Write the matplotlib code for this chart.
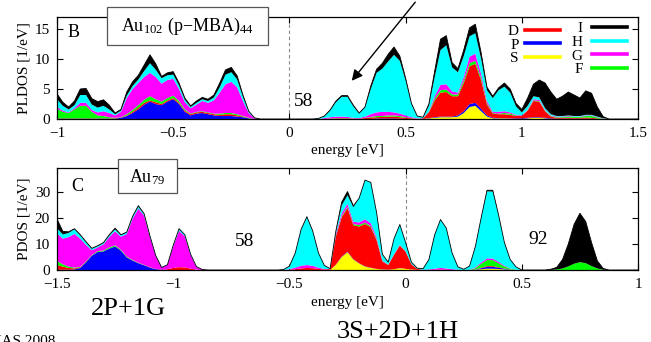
import numpy as np
import matplotlib
matplotlib.use('Agg')
import matplotlib.pyplot as plt
from matplotlib.lines import Line2D
from matplotlib.patches import Rectangle, FancyArrowPatch

plt.rcParams['font.family'] = ['Liberation Serif', 'DejaVu Serif']
plt.rcParams['mathtext.fontset'] = 'custom'
plt.rcParams['mathtext.rm'] = 'Liberation Serif'
plt.rcParams['mathtext.it'] = 'Liberation Serif:italic'

# ---------------- data: panel B, Au102(p-MBA)44, energy grid -1 .. 1.5 eV ----------------
energy_B = np.round(np.linspace(-1.0, 1.5, 101), 3)
B_S = [0, 0, 0, 0, 0, 0, 0, 0, 0, 0,
       0, 0, 0, 0, 0, 0, 0, 0, 0, 0,
       0, 0, 0, 0, 0, 0, 0, 0, 0, 0,
       0, 0, 0, 0, 0, 0, 0, 0, 0, 0,
       0, 0, 0, 0, 0, 0, 0, 0, 0, 0,
       0, 0, 0, 0, 0, 0, 0, 0, 0, 0,
       0, 0, 0, 0, .1, .2, .3, .3, .3, .4,
       1.0, 2.0, 2.2, 1.3, .4, .1, .1, .1, .05, 0,
       0, .1, .2, .2, .1, 0, 0, 0, 0, 0,
       0, 0, 0, 0, 0, 0, 0, 0, 0, 0, 0]
B_P = [.05, .05, .05, .05, .05, .05, .05, .05, .05, .05,
       .05, .2, .5, 1.0, 1.6, 2.4, 2.9, 2.5, 2.3, 2.9,
       3.3, 2.5, 1.2, .6, .9, 1.0, .8, .6, .5, .5,
       .5, .4, .3, .1, 0, 0, 0, 0, 0, 0,
       0, 0, 0, 0, 0, 0, 0, 0, 0, 0,
       0, 0, 0, 0, 0, .1, .1, .1, .1, .05,
       0, 0, 0, 0, .05, .1, .1, .1, .1, .2,
       .3, .5, .5, .4, .2, .1, .05, .05, .05, .1,
       .1, .1, .1, .1, .1, .1, .05, .05, .05, .05,
       .05, .05, .05, 0, 0, 0, 0, 0, 0, 0, 0]
B_D = [.05, .05, .05, .05, .05, .05, .05, .05, .05, .05,
       .05, .05, .1, .2, .3, .3, .2, .3, .2, .2,
       .2, .2, .2, .2, .2, .2, .2, .2, .2, .3,
       .3, .2, .1, 0, 0, 0, 0, 0, 0, 0,
       0, 0, 0, 0, 0, 0, 0, .05, .1, .1,
       .1, .05, .05, .15, .25, .2, .25, .3, .3, .25,
       .2, .1, .02, .1, .95, 2.8, 4.0, 4.1, 3.4, 3.2,
       4.7, 6.3, 6.5, 4.7, 1.8, .7, .65, .65, .6, .4,
       .4, 1.2, 2.7, 2.6, 1.1, .3, .15, .15, .15, .15,
       .15, .2, .15, .1, 0, 0, 0, 0, 0, 0, 0]
B_F = [1.6, 1.1, .9, 1.5, 2.1, 2.1, 1.1, .5, .4, .2,
       .1, .05, .2, .3, .4, .5, .7, .5, .4, .4,
       .4, .3, .2, .1, .1, .1, .1, .1, .2, .2,
       .2, .2, .1, .1, 0, 0, 0, 0, 0, 0,
       0, 0, 0, 0, 0, 0, 0, .05, .05, .05,
       .05, .05, 0, .05, .1, .2, .15, .2, .2, .2,
       .1, .05, 0, 0, .1, .3, .4, .4, .3, .3,
       .4, .5, .5, .4, .2, .1, .1, .2, .2, .1,
       0, .1, .1, .1, .1, .1, .1, .1, .2, .15,
       .15, .25, .3, .15, .05, 0, 0, 0, 0, 0, 0]
B_G = [.3, .2, .1, .2, .5, .5, .3, .5, .8, .7,
       .4, .9, 2.7, 3.5, 3.7, 3.8, 3.9, 3.7, 3.0, 3.0,
       2.8, 2.0, 1.2, .9, 1.2, 1.7, 1.6, 2.2, 3.5, 4.8,
       5.2, 4.5, 2.5, .8, .15, 0, 0, 0, 0, 0,
       0, 0, 0, 0, 0, 0, .15, .2, .25, .25,
       .2, .1, .1, .2, .45, .6, .7, .6, .5, .4,
       .3, .15, .08, .05, .1, .4, .9, .9, .5, .3,
       .6, 1.1, 1.2, .7, .4, .2, .3, .3, .2, .1,
       .1, .1, .2, .2, .1, .1, .1, .1, .1, .05,
       .05, .1, .1, .05, .05, 0, 0, 0, 0, 0, 0]
B_H = [1.3, .8, .5, .5, 1.3, 1.3, .9, .8, .9, .6,
       .2, .2, .4, .5, .6, 1.0, 1.6, 1.2, .9, .8,
       .7, .6, .4, .2, .3, .3, .3, .5, .9, 1.6,
       1.6, 1.3, .7, .2, .05, 0, 0, 0, 0, 0,
       0, 0, 0, 0, 0, .1, .3, 1.1, 2.4, 3.3,
       3.35, 1.9, .75, 1.5, 4.2, 6.6, 7.2, 8.4, 9.6, 8.8,
       5.8, 2.2, .35, .15, .9, 3.2, 5.8, 6.5, 4.0, 3.4,
       3.5, 3.4, 3.4, 2.5, 1.8, 2.3, 3.6, 4.1, 3.3, 1.4,
       .5, .6, .5, .4, .3, .2, .1, .1, .1, .1,
       .1, .1, .1, .1, .05, 0, 0, 0, 0, 0, 0]
B_I = [.9, .6, .4, .7, 1.0, 1.1, 1.0, 1.0, 1.0, .7,
       .2, .2, .6, .7, .7, 1.0, 1.4, 1.0, .3, .4,
       .5, .4, .3, .2, .3, .3, .3, .4, .7, .8,
       .8, .6, .3, .1, 0, 0, 0, 0, 0, 0,
       0, 0, 0, 0, 0, 0, .05, .1, .2, .2,
       .2, .2, .1, .1, .5, .6, .9, 1.2, 1.3, .8,
       .4, .1, .05, 0, .3, 1.0, 1.8, 1.6, .8, .6,
       1.0, 1.4, 1.5, 1.0, .5, .3, .4, .6, .6, .5,
       .5, 1.3, 2.0, 2.9, 4.2, 3.7, 2.8, 3.3, 3.9, 3.5,
       3.0, 4.0, 3.6, 1.6, .25, 0, 0, 0, 0, 0, 0]

# ---------------- data: panel C, Au79, energy grid -1.5 .. 1 eV ----------------
energy_C = np.round(np.linspace(-1.5, 1.0, 101), 3)
C_S = [0, 0, 0, 0, 0, 0, 0, 0, 0, 0,
       0, 0, 0, 0, 0, 0, 0, 0, 0, 0,
       0, 0, 0, 0, 0, 0, 0, 0, 0, 0,
       0, 0, 0, 0, 0, 0, 0, 0, 0, 0,
       0, 0, 0, 0, 0, 0, 0, 0, 2.0, 5.0,
       6.8, 4.0, 2.5, 1.3, .8, .4, .2, .1, .3, .7,
       .5, .2, .05, 0, 0, 0, 0, 0, 0, 0,
       0, 0, .1, .3, .5, .5, .4, .2, .1, 0,
       0, 0, 0, 0, 0, 0, 0, 0, 0, 0,
       0, 0, 0, 0, 0, 0, 0, 0, 0, 0, 0]
C_P = [.1, .1, .1, .2, .8, 3.0, 5.5, 6.9, 7.1, 8.2,
       9.0, 7.4, 4.8, 3.6, 2.6, 1.8, .9, .3, .05, 0,
       0, 0, 0, 0, 0, 0, 0, 0, 0, 0,
       0, 0, 0, 0, 0, 0, 0, 0, 0, 0,
       0, 0, 0, 0, 0, 0, 0, 0, .1, .2,
       .2, .15, .1, .1, .1, .05, .05, 0, 0, .05,
       0, 0, 0, 0, 0, 0, 0, 0, 0, 0,
       0, 0, .1, .4, .7, .7, .5, .3, .1, 0,
       0, 0, 0, 0, 0, 0, 0, 0, 0, 0,
       0, 0, 0, 0, 0, 0, 0, 0, 0, 0, 0]
C_D = [1.8, 1.2, .7, .4, .2, .1, .05, .05, .05, .05,
       .05, .05, .05, .05, .05, .05, .05, .05, .05, .3,
       .8, 1.1, 1.0, .5, .1, 0, 0, 0, 0, 0,
       0, 0, 0, 0, 0, 0, 0, 0, 0, 0,
       .1, .3, .6, .8, .7, .4, .2, .3, 10.8, 15.0,
       16.7, 13.0, 14.0, 16.2, 15.5, 11.0, 3.0, 1.8, 5.5, 8.6,
       6.5, 2.0, .4, 0, 0, .1, .2, .1, 0, 0,
       0, 0, 0, .2, .3, .3, .2, .1, 0, 0,
       0, 0, 0, 0, 0, 0, 0, 0, 0, 0,
       0, 0, 0, 0, 0, 0, 0, 0, 0, 0, 0]
C_F = [1.5, .9, .5, .3, .2, .2, .2, .3, .3, .4,
       .4, .3, .3, .2, .15, .1, .1, .05, 0, 0,
       0, 0, 0, 0, 0, 0, 0, 0, 0, 0,
       0, 0, 0, 0, 0, 0, 0, 0, 0, 0,
       0, 0, 0, 0, 0, 0, 0, 0, .3, .4,
       .4, .4, .6, .5, .4, .3, .1, .05, .1, .1,
       .1, 0, 0, 0, 0, 0, 0, 0, 0, 0,
       0, 0, .5, 1.5, 2.3, 2.3, 1.5, .8, .3, .1,
       0, 0, 0, 0, 0, .05, .2, .6, 1.4, 2.4,
       3.0, 2.6, 1.5, .6, .1, 0, 0, 0, 0, 0, 0]
C_G = [10.6, 9.8, 11.3, 12.9, 10.8, 6.3, 1.8, 1.4, 2.4, 4.0,
       5.4, 5.0, 8.6, 15.8, 20.7, 18.8, 11.5, 4.9, .85, 1.6,
       8.3, 13.9, 11.9, 5.2, 1.1, .2, 0, 0, 0, 0,
       0, 0, 0, 0, 0, 0, 0, 0, 0, 0,
       .2, .6, 1.0, 1.1, .9, .5, .2, .05, .8, 1.1,
       1.2, .9, 1.0, 1.3, 1.1, .8, .3, .1, .2, .2,
       .1, .05, 0, .1, .2, .4, .6, .5, .3, .1,
       0, .1, .3, .5, .6, .6, .5, .3, .1, 0,
       0, 0, 0, 0, 0, 0, 0, 0, 0, 0,
       0, 0, 0, 0, 0, 0, 0, 0, 0, 0, 0]
C_H = [2.0, 1.6, 1.6, 1.8, 1.3, 1.0, .6, .5, .5, .6,
       .7, .6, .6, .7, .8, .6, .4, .2, .05, .1,
       .4, .7, .6, .3, .1, 0, 0, 0, 0, 0,
       0, 0, 0, 0, 0, 0, 0, 0, 0, .2,
       1.2, 5.6, 13.9, 18.4, 13.4, 5.6, 1.4, .15, .8, 3.0,
       3.3, 5.6, 9.3, 15.0, 15.6, 9.45, 2.35, .95, 5.9, 7.75,
       3.3, .75, .25, .4, 3.8, 13.0, 18.5, 15.4, 6.2, 1.1,
       .3, 1.4, 8.0, 17.1, 25.7, 25.6, 17.9, 8.8, 3.4, 1.1,
       0, 0, 0, 0, 0, 0, 0, 0, 0, 0,
       0, 0, 0, 0, 0, 0, 0, 0, 0, 0, 0]
C_I = [3.5, 1.2, .4, .2, .2, .2, .15, .15, .15, .25,
       .45, .15, .15, .15, .3, .15, .05, 0, 0, 0,
       0, .1, 0, 0, 0, 0, 0, 0, 0, 0,
       0, 0, 0, 0, 0, 0, 0, 0, 0, 0,
       0, 0, 0, .1, 0, 0, 0, 0, .2, 1.3,
       1.4, .45, 0, 0, 0, 0, 0, 0, 0, 0,
       0, 0, 0, 0, 0, 0, 0, 0, 0, 0,
       0, 0, 0, 0, .4, .5, 0, 0, 0, 0,
       0, 0, 0, 0, 0, .25, .8, 3.4, 8.6, 15.1,
       18.7, 15.9, 9.0, 2.9, .5, 0, 0, 0, 0, 0, 0]

channels = ['S', 'P', 'D', 'F', 'G', 'H', 'I']
colors = {'S': '#ffff00', 'P': '#0000ff', 'D': '#ff0000', 'F': '#00ff00',
          'G': '#ff00ff', 'H': '#00ffff', 'I': '#000000'}

B_data = [B_S, B_P, B_D, B_F, B_G, B_H, B_I]
C_data = [C_S, C_P, C_D, C_F, C_G, C_H, C_I]

B_xticks = [-1, -0.5, 0, 0.5, 1, 1.5]
B_xticklabels = ['\u22121', '\u22120.5', '0', '0.5', '1', '1.5']
B_yticks = [0, 5, 10, 15]
C_xticks = [-1.5, -1, -0.5, 0, 0.5, 1]
C_xticklabels = ['\u22121.5', '\u22121', '\u22120.5', '0', '0.5', '1']
C_yticks = [0, 10, 20, 30]

fig = plt.figure(figsize=(6.51, 3.42), dpi=100)
axB = fig.add_axes([0.0876, 0.652, 0.8925, 0.2982])
axC = fig.add_axes([0.0876, 0.2105, 0.8925, 0.2982])


def draw(ax, energy, data, xlim, ylim, xticks, xticklabels, yticks, ylabel, xlabelpad):
    ax.axvline(0, color='#888888', lw=0.8, ls=(0, (3, 2.5)), zorder=0)
    ax.stackplot(energy, *[np.array(d) for d in data],
                 colors=[colors[c] for c in channels], lw=0.3, zorder=2)
    total = np.sum([np.array(d) for d in data], axis=0)
    ax.plot(energy, total, color='black', lw=0.6, zorder=3)
    ax.set_xlim(*xlim)
    ax.set_ylim(*ylim)
    ax.set_xticks(xticks)
    ax.set_xticklabels(xticklabels)
    ax.set_yticks(yticks)
    ax.tick_params(direction='in', top=True, right=True, length=4, width=0.8,
                   labelsize=11)
    ax.tick_params(axis='x', pad=5.5)
    ax.tick_params(axis='y', pad=5)
    for s in ax.spines.values():
        s.set_linewidth(0.9)
    ax.set_xlabel('energy [eV]', fontsize=11, labelpad=xlabelpad)
    ax.set_ylabel(ylabel, fontsize=11, labelpad=3)


draw(axB, energy_B, B_data, (-1, 1.5), (0, 17), B_xticks, B_xticklabels, B_yticks,
     'PLDOS [1/eV]', 3)
draw(axC, energy_C, C_data, (-1.5, 1.0), (0, 39), C_xticks, C_xticklabels, C_yticks,
     'PDOS [1/eV]', 4)

# legends (two columns)
def handle(c):
    return Line2D([], [], color=colors[c], lw=2.6, label=c)

leg1 = axB.legend(handles=[handle('D'), handle('P'), handle('S')], loc='upper right',
                  bbox_to_anchor=(0.866, 0.93), frameon=False, markerfirst=False,
                  fontsize=11, handlelength=2.3, handletextpad=0.4, labelspacing=0.0,
                  borderpad=0, borderaxespad=0)
axB.add_artist(leg1)
axB.legend(handles=[handle('I'), handle('H'), handle('G'), handle('F')], loc='upper right',
           bbox_to_anchor=(0.981, 0.955), frameon=False, markerfirst=False,
           fontsize=11, handlelength=2.3, handletextpad=0.6, labelspacing=0.0,
           borderpad=0, borderaxespad=0)

# panel letters, title boxes, numbers
axB.text(0.029, 0.85, 'B', transform=axB.transAxes, fontsize=13, ha='center', va='center')
axC.text(0.035, 0.82, 'C', transform=axC.transAxes, fontsize=13, ha='center', va='center')

axB.add_patch(Rectangle((0.0855, 0.7255), 0.2782, 0.37, transform=axB.transAxes,
                        facecolor='white', edgecolor='#555555', lw=0.9, clip_on=False, zorder=5))
axB.text(0.2246, 0.905, 'Au$_{\\mathrm{102}}$ (p\u2212MBA)$_{\\mathrm{44}}$',
         transform=axB.transAxes, fontsize=13, ha='center', va='center', zorder=6)
axC.add_patch(Rectangle((0.1055, 0.752), 0.1005, 0.333, transform=axC.transAxes,
                        facecolor='white', edgecolor='#555555', lw=0.9, clip_on=False, zorder=5))
axC.text(0.155, 0.915, r'Au$_{\mathrm{79}}$', transform=axC.transAxes, fontsize=13,
         ha='center', va='center', zorder=6)

axB.text(0.425, 0.172, '58', transform=axB.transAxes, fontsize=14, ha='center', va='center')
axC.text(0.3236, 0.279, '58', transform=axC.transAxes, fontsize=14, ha='center', va='center')
axC.text(0.828, 0.299, '92', transform=axC.transAxes, fontsize=14, ha='center', va='center')

fig.text(128 / 651, 1 - 309 / 342, '2P+1G', fontsize=19, ha='center', va='center')
fig.text(398 / 651, 1 - 332 / 342, '3S+2D+1H', fontsize=19, ha='center', va='center')
fig.text(55 / 651, -0.01, 'PNAS 2008', fontsize=11, ha='right', va='baseline')

fig.add_artist(FancyArrowPatch(
    (417 / 651, 1.0), (350 / 651, 1 - 83 / 342), transform=fig.transFigure,
    arrowstyle='-|>', mutation_scale=16, lw=1.0, color='black'))

fig.savefig('out.png', dpi=100)
